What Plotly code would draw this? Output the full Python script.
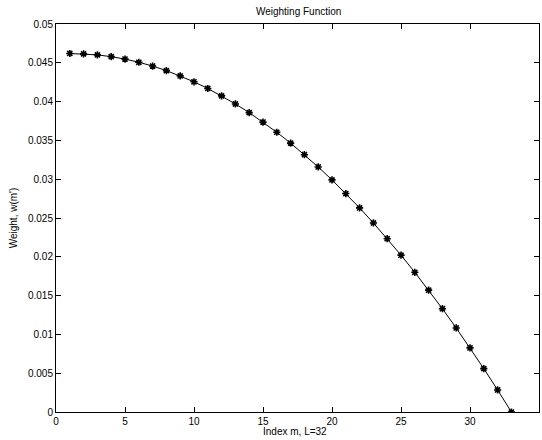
import plotly.graph_objects as go

# Data
index_m = list(range(1, 34))
weights = [0.0462, 0.04615, 0.04602, 0.04579, 0.04548, 0.04507, 0.04458, 0.04399,
           0.04331, 0.04255, 0.04169, 0.04074, 0.03970, 0.03858, 0.03736, 0.03605,
           0.03465, 0.03316, 0.03158, 0.02991, 0.02815, 0.02630, 0.02436, 0.02233,
           0.02021, 0.01800, 0.01570, 0.01331, 0.01083, 0.00826, 0.00559, 0.00284, 0.0]

x_ticks = [0, 5, 10, 15, 20, 25, 30, 35]
y_ticks = [0, 0.005, 0.01, 0.015, 0.02, 0.025, 0.03, 0.035, 0.04, 0.045, 0.05]
y_ticktext = ["0", "0.005", "0.01", "0.015", "0.02", "0.025", "0.03", "0.035", "0.04", "0.045", "0.05"]

FONT = dict(family="Liberation Sans, Arial, sans-serif", size=10, color="black")

fig = go.Figure()
fig.add_trace(go.Scatter(
    x=index_m, y=weights, mode="lines+markers",
    line=dict(color="black", width=1),
    marker=dict(symbol="asterisk-open", size=6, color="black",
                line=dict(color="black", width=1.6)),
    showlegend=False,
))

axis_common = dict(
    showgrid=False, zeroline=False, showline=True, linecolor="black", linewidth=1,
    mirror="ticks", ticks="inside", ticklen=5, tickcolor="black",
    tickfont=FONT,
)

fig.update_layout(
    width=542, height=440,
    paper_bgcolor="white", plot_bgcolor="white",
    margin=dict(l=56, r=3, t=24, b=28),
    title=dict(text="Weighting Function", x=0.551, xanchor="center", y=0.975, yanchor="middle",
               font=FONT),
    xaxis=dict(range=[0, 35], tickvals=x_ticks, **axis_common),
    yaxis=dict(range=[0, 0.05], tickvals=y_ticks, ticktext=y_ticktext,
               title=dict(text="Weight, w(m')", standoff=8, font=FONT),
               **axis_common),
    annotations=[dict(text="Index m, L=32", xref="paper", yref="paper",
                      x=0.495, y=-0.05, xanchor="center", yanchor="middle",
                      showarrow=False, font=FONT)],
)

# remove the default page margin so the figure fills the 542x440 window exactly
fig.write_html("out.html", config={"displayModeBar": False},
               post_script="document.body.style.margin='0';document.body.style.overflow='hidden';")
